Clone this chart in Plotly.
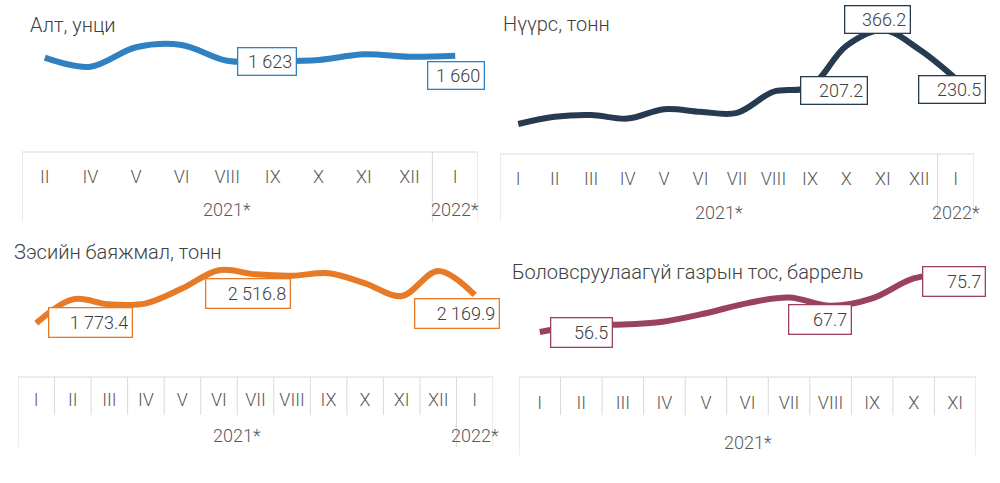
import plotly.graph_objects as go

W, H = 1000, 483

# --- data -------------------------------------------------------------
gold_months = ["II", "IV", "V", "VI", "VIII", "IX", "X", "XI", "XII", "I"]
gold_vals = [1646, 1583, 1719, 1735, 1625, 1623, 1630, 1670, 1653, 1660]
gold_years = [("2021*", 0, 8), ("2022*", 9, 9)]

coal_months = ["I", "II", "III", "IV", "V", "VI", "VII", "VIII", "IX", "X", "XI", "XII", "I"]
coal_vals = [104, 124, 129, 119, 145, 138, 135, 194, 207.2, 322, 366.2, 312, 230.5]
coal_years = [("2021*", 0, 11), ("2022*", 12, 12)]

copper_months = ["I", "II", "III", "IV", "V", "VI", "VII", "VIII", "IX", "X", "XI", "XII", "I"]
copper_vals = [1773.4, 2109, 2039, 2053, 2263, 2516.8, 2459, 2440, 2473, 2333, 2156, 2506, 2169.9]
copper_years = [("2021*", 0, 11), ("2022*", 12, 12)]

oil_months = ["I", "II", "III", "IV", "V", "VI", "VII", "VIII", "IX", "X", "XI"]
oil_vals = [56.5, 58.8, 58.9, 59.9, 62.6, 65.9, 67.7, 65.0, 67.4, 73.9, 75.7]
oil_years = [("2021*", 0, 10)]

# labelled points: (index, text)
gold_labels = [(5, "1 623"), (9, "1 660")]
coal_labels = [(8, "207.2"), (10, "366.2"), (12, "230.5")]
copper_labels = [(0, "1 773.4"), (5, "2 516.8"), (12, "2 169.9")]
oil_labels = [(0, "56.5"), (6, "67.7"), (10, "75.7")]


def px_x(p):
    return p / W


def px_y(p):
    return 1 - p / H


FONT = "Roboto"
GRID = "#D9D9D9"

panels = [
    dict(name="Алт, унци", months=gold_months, vals=gold_vals, years=gold_years,
         labels=gold_labels, color="#2F81C1",
         xdom=(22, 478), ydom=(30, 140), yrange=(1070, 1840),
         box=(152, None, 222), tick_y=152, year_y=210, title=(28, 25),
         offsets=[(-6, 0, 51, 20), (1, 20, 49, 20)]),
    dict(name="Нүүрс, тонн", months=coal_months, vals=coal_vals, years=coal_years,
         labels=coal_labels, color="#263A50",
         xdom=(500, 974), ydom=(10, 140), yrange=(59.3, 422.0),
         box=(154, None, 222), tick_y=154, year_y=212, title=(501, 24),
         offsets=[(24, 4, 59, 20), (-5, -10, 58, 20), (-4, 11, 59, 20)]),
    dict(name="Зэсийн баяжмал, тонн", months=copper_months, vals=copper_vals, years=copper_years,
         labels=copper_labels, color="#E67A26",
         xdom=(18, 493), ydom=(255, 365), yrange=(1189.6, 2729.6),
         box=(377, 415, 447), tick_y=375, year_y=435, title=(12, 252),
         offsets=[(54, -1, 76, 22), (29, 23, 77, 22), (-18, 19, 77, 22)]),
    dict(name="Боловсруулаагүй газрын тос, баррель", months=oil_months, vals=oil_vals, years=oil_years,
         labels=oil_labels, color="#9A415F",
         xdom=(519, 976), ydom=(255, 365), yrange=(45.775, 81.525),
         box=(377, 415, 455), tick_y=378, year_y=442, title=(510, 272),
         offsets=[(42, 0, 54, 22), (31, 22, 55, 22), (-1, 9, 55, 22)]),
]

fig = go.Figure()
shapes, annotations = [], []

for k, p in enumerate(panels, start=1):
    xa = "x" if k == 1 else f"x{k}"
    ya = "y" if k == 1 else f"y{k}"
    n = len(p["months"])
    idx = list(range(n))

    fig.add_trace(go.Scatter(
        x=idx, y=p["vals"], mode="lines", xaxis=xa, yaxis=ya,
        line=dict(color=p["color"], width=6, shape="spline", smoothing=1.0),
        hoverinfo="skip", showlegend=False,
    ))

    fig.layout[f"xaxis{'' if k == 1 else k}"] = dict(
        domain=[px_x(p["xdom"][0]), px_x(p["xdom"][1])],
        range=[-0.5, n - 0.5], anchor="free", position=px_y(p["tick_y"]),
        tickmode="array", tickvals=idx, ticktext=p["months"],
        showgrid=False, zeroline=False, showline=False, ticks="",
        ticklabelstandoff=12,
        tickfont=dict(family=FONT, size=18, color="#595959", weight=300),
        fixedrange=True,
    )
    fig.layout[f"yaxis{'' if k == 1 else k}"] = dict(
        domain=[px_y(p["ydom"][1]), px_y(p["ydom"][0])],
        range=list(p["yrange"]), visible=False, anchor=xa, fixedrange=True,
    )

    # category table
    top, mid, bot = p["box"]
    line = dict(color=GRID, width=1)
    shapes.append(dict(type="line", xref=xa, yref="paper", x0=-0.5, x1=n - 0.5,
                       y0=px_y(top), y1=px_y(top), line=line))
    for xv in (-0.5, n - 0.5):
        shapes.append(dict(type="line", xref=xa, yref="paper", x0=xv, x1=xv,
                           y0=px_y(top), y1=px_y(bot), line=line))
    for name, a, b in p["years"][:-1]:
        shapes.append(dict(type="line", xref=xa, yref="paper", x0=b + 0.5, x1=b + 0.5,
                           y0=px_y(top), y1=px_y(bot), line=line))
    if mid is not None:
        ends = {b for _, _, b in p["years"][:-1]}
        for i in range(n - 1):
            if i not in ends:
                shapes.append(dict(type="line", xref=xa, yref="paper", x0=i + 0.5, x1=i + 0.5,
                                   y0=px_y(top), y1=px_y(mid), line=line))

    for name, a, b in p["years"]:
        annotations.append(dict(
            text=name, xref=xa, yref="paper", x=(a + b) / 2, y=px_y(p["year_y"]),
            yanchor="middle", showarrow=False,
            font=dict(family=FONT, size=18, color="#595959", weight=300),
        ))

    # title
    annotations.append(dict(
        text=p["name"], xref="paper", yref="paper", x=px_x(p["title"][0]), y=px_y(p["title"][1]),
        xanchor="left", yanchor="middle", showarrow=False,
        font=dict(family=FONT, size=20, color="#404040", weight=300),
    ))

    # data labels
    for (i, txt), (dx, dy, bw, bh) in zip(p["labels"], p["offsets"]):
        annotations.append(dict(
            text=txt, xref=xa, yref=ya, x=i, y=p["vals"][i],
            xshift=dx, yshift=-dy, showarrow=False, align="right",
            width=bw, height=bh, borderpad=3,
            bgcolor="white", bordercolor=p["color"], borderwidth=1.3,
            font=dict(family=FONT, size=18, color="#404040", weight=300),
        ))

fig.update_layout(
    width=W, height=H, margin=dict(l=0, r=0, t=0, b=0),
    paper_bgcolor="white", plot_bgcolor="rgba(0,0,0,0)",
    shapes=shapes, annotations=annotations, showlegend=False,
)

fig.write_html("out.html", config={"displayModeBar": False},
               post_script="document.body.style.margin='0';")
